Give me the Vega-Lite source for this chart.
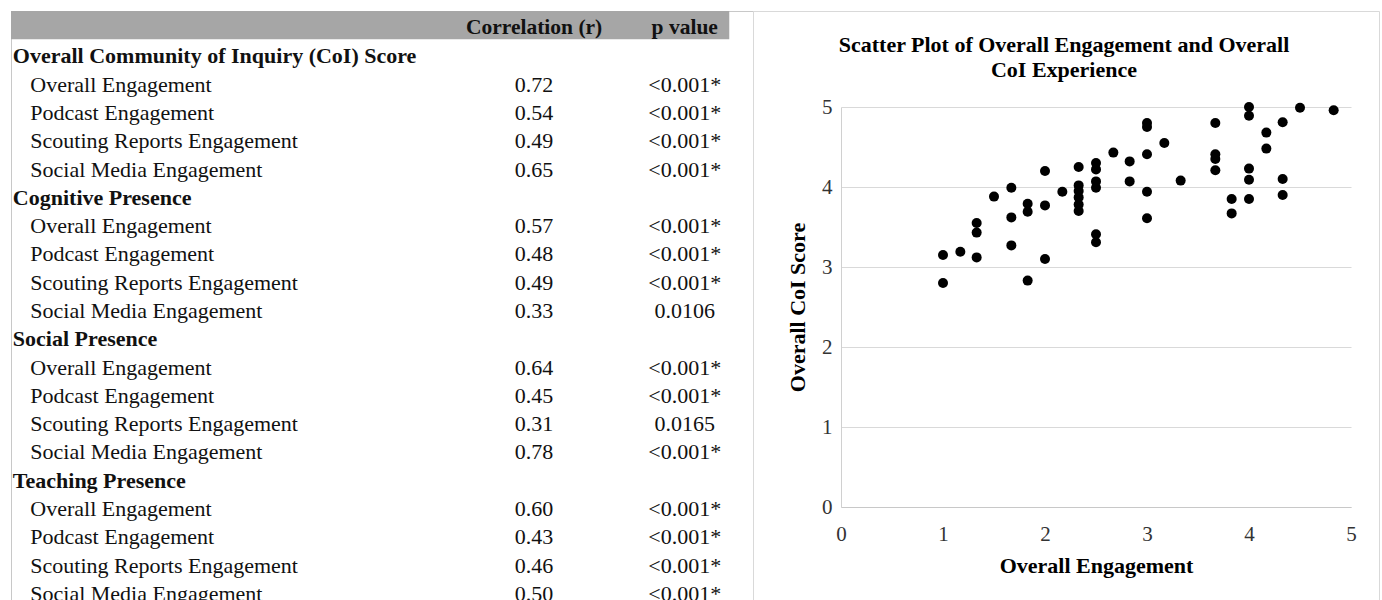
{
  "$schema": "https://vega.github.io/schema/vega-lite/v6.json",
  "padding": {"left": 10, "top": 10, "right": 0, "bottom": 0},
  "background": "white",
  "spacing": 0,
  "bounds": "flush",
  "config": {"font": "Liberation Serif", "view": {"stroke": null}},
  "datasets": {
    "table": [
      {"row": 0, "kind": "header", "label": "", "r": "Correlation (r)", "p": "p value"},
      {"row": 1, "kind": "section", "label": "Overall Community of Inquiry (CoI) Score", "r": "", "p": ""},
      {"row": 2, "kind": "item", "label": "Overall Engagement", "r": "0.72", "p": "<0.001*"},
      {"row": 3, "kind": "item", "label": "Podcast Engagement", "r": "0.54", "p": "<0.001*"},
      {"row": 4, "kind": "item", "label": "Scouting Reports Engagement", "r": "0.49", "p": "<0.001*"},
      {"row": 5, "kind": "item", "label": "Social Media Engagement", "r": "0.65", "p": "<0.001*"},
      {"row": 6, "kind": "section", "label": "Cognitive Presence", "r": "", "p": ""},
      {"row": 7, "kind": "item", "label": "Overall Engagement", "r": "0.57", "p": "<0.001*"},
      {"row": 8, "kind": "item", "label": "Podcast Engagement", "r": "0.48", "p": "<0.001*"},
      {"row": 9, "kind": "item", "label": "Scouting Reports Engagement", "r": "0.49", "p": "<0.001*"},
      {"row": 10, "kind": "item", "label": "Social Media Engagement", "r": "0.33", "p": "0.0106"},
      {"row": 11, "kind": "section", "label": "Social Presence", "r": "", "p": ""},
      {"row": 12, "kind": "item", "label": "Overall Engagement", "r": "0.64", "p": "<0.001*"},
      {"row": 13, "kind": "item", "label": "Podcast Engagement", "r": "0.45", "p": "<0.001*"},
      {"row": 14, "kind": "item", "label": "Scouting Reports Engagement", "r": "0.31", "p": "0.0165"},
      {"row": 15, "kind": "item", "label": "Social Media Engagement", "r": "0.78", "p": "<0.001*"},
      {"row": 16, "kind": "section", "label": "Teaching Presence", "r": "", "p": ""},
      {"row": 17, "kind": "item", "label": "Overall Engagement", "r": "0.60", "p": "<0.001*"},
      {"row": 18, "kind": "item", "label": "Podcast Engagement", "r": "0.43", "p": "<0.001*"},
      {"row": 19, "kind": "item", "label": "Scouting Reports Engagement", "r": "0.46", "p": "<0.001*"},
      {"row": 20, "kind": "item", "label": "Social Media Engagement", "r": "0.50", "p": "<0.001*"}
    ],
    "scatter": [
      {"eng": 1.0, "coi": 3.15}, {"eng": 1.0, "coi": 2.80},
      {"eng": 1.17, "coi": 3.19},
      {"eng": 1.33, "coi": 3.55}, {"eng": 1.33, "coi": 3.43}, {"eng": 1.33, "coi": 3.12},
      {"eng": 1.5, "coi": 3.88},
      {"eng": 1.67, "coi": 3.99}, {"eng": 1.67, "coi": 3.62}, {"eng": 1.67, "coi": 3.27},
      {"eng": 1.83, "coi": 3.79}, {"eng": 1.83, "coi": 3.69}, {"eng": 1.83, "coi": 2.83},
      {"eng": 2.0, "coi": 4.20}, {"eng": 2.0, "coi": 3.77}, {"eng": 2.0, "coi": 3.10},
      {"eng": 2.17, "coi": 3.94},
      {"eng": 2.33, "coi": 4.25}, {"eng": 2.33, "coi": 4.02}, {"eng": 2.33, "coi": 3.95}, {"eng": 2.33, "coi": 3.87}, {"eng": 2.33, "coi": 3.78}, {"eng": 2.33, "coi": 3.70},
      {"eng": 2.5, "coi": 4.30}, {"eng": 2.5, "coi": 4.22}, {"eng": 2.5, "coi": 4.07}, {"eng": 2.5, "coi": 3.99}, {"eng": 2.5, "coi": 3.41}, {"eng": 2.5, "coi": 3.31},
      {"eng": 2.67, "coi": 4.43},
      {"eng": 2.83, "coi": 4.32}, {"eng": 2.83, "coi": 4.07},
      {"eng": 3.0, "coi": 4.80}, {"eng": 3.0, "coi": 4.75}, {"eng": 3.0, "coi": 4.41}, {"eng": 3.0, "coi": 3.94}, {"eng": 3.0, "coi": 3.61},
      {"eng": 3.17, "coi": 4.55},
      {"eng": 3.33, "coi": 4.08},
      {"eng": 3.67, "coi": 4.80}, {"eng": 3.67, "coi": 4.41}, {"eng": 3.67, "coi": 4.35}, {"eng": 3.67, "coi": 4.21},
      {"eng": 3.83, "coi": 3.85}, {"eng": 3.83, "coi": 3.67},
      {"eng": 4.0, "coi": 5.00}, {"eng": 4.0, "coi": 4.89}, {"eng": 4.0, "coi": 4.23}, {"eng": 4.0, "coi": 4.09}, {"eng": 4.0, "coi": 3.85},
      {"eng": 4.17, "coi": 4.68}, {"eng": 4.17, "coi": 4.48},
      {"eng": 4.33, "coi": 4.81}, {"eng": 4.33, "coi": 4.10}, {"eng": 4.33, "coi": 3.90},
      {"eng": 4.5, "coi": 4.99},
      {"eng": 4.83, "coi": 4.96}
    ]
  },
  "hconcat": [
    {
      "width": 742,
      "height": 594,
      "view": {"stroke": "#c8c8c8", "strokeWidth": 1},
      "data": {"name": "table"},
      "encoding": {
        "y": {"field": "row", "type": "ordinal", "axis": null, "scale": {"paddingInner": 0, "paddingOuter": 0}}
      },
      "layer": [
        {
          "transform": [{"filter": "datum.kind === 'header'"}],
          "mark": {"type": "rect", "color": "#a6a6a6"},
          "encoding": {
            "x": {"datum": 0, "type": "quantitative", "scale": {"domain": [0, 100], "nice": false, "zero": false}, "axis": null},
            "x2": {"datum": 96.8}
          }
        },
        {
          "transform": [{"filter": "datum.kind === 'header'"}],
          "mark": {"type": "text", "fontSize": 21.5, "fontWeight": "bold", "align": "center", "baseline": "middle", "dy": 3, "color": "#111"},
          "encoding": {"x": {"datum": 70.5, "type": "quantitative"}, "text": {"field": "r"}}
        },
        {
          "transform": [{"filter": "datum.kind === 'header'"}],
          "mark": {"type": "text", "fontSize": 21.5, "fontWeight": "bold", "align": "center", "baseline": "middle", "dy": 3, "color": "#111"},
          "encoding": {"x": {"datum": 90.8, "type": "quantitative"}, "text": {"field": "p"}}
        },
        {
          "transform": [{"filter": "datum.kind === 'section'"}],
          "mark": {"type": "text", "fontSize": 22, "fontWeight": "bold", "align": "left", "baseline": "middle", "dy": 3, "color": "#111"},
          "encoding": {"x": {"datum": 0.25, "type": "quantitative"}, "text": {"field": "label"}}
        },
        {
          "transform": [{"filter": "datum.kind === 'item'"}],
          "mark": {"type": "text", "fontSize": 22, "align": "left", "baseline": "middle", "dy": 3, "color": "#111"},
          "encoding": {"x": {"datum": 2.6, "type": "quantitative"}, "text": {"field": "label"}}
        },
        {
          "transform": [{"filter": "datum.kind === 'item'"}],
          "mark": {"type": "text", "fontSize": 22, "align": "center", "baseline": "middle", "dy": 3, "color": "#111"},
          "encoding": {"x": {"datum": 70.5, "type": "quantitative"}, "text": {"field": "r"}}
        },
        {
          "transform": [{"filter": "datum.kind === 'item'"}],
          "mark": {"type": "text", "fontSize": 22, "align": "center", "baseline": "middle", "dy": 3, "color": "#111"},
          "encoding": {"x": {"datum": 90.8, "type": "quantitative"}, "text": {"field": "p"}}
        }
      ]
    },
    {
      "width": 626,
      "height": 600,
      "view": {"stroke": "#d9d9d9", "strokeWidth": 1},
      "title": {
        "text": ["Scatter Plot of Overall Engagement and Overall", "CoI Experience"],
        "fontSize": 22,
        "fontWeight": "bold",
        "lineHeight": 25,
        "offset": -71,
        "anchor": "middle",
        "frame": "group",
        "dx": -2,
        "color": "#000",
        "font": "Liberation Serif"
      },
      "data": {"name": "scatter"},
      "mark": {"type": "circle", "size": 100, "opacity": 1, "color": "#000"},
      "encoding": {
        "x": {
          "field": "eng", "type": "quantitative",
          "scale": {"domain": [0, 5], "nice": false, "range": [88, 598]},
          "axis": {"title": "Overall Engagement", "values": [0, 1, 2, 3, 4, 5], "grid": false, "ticks": false, "tickSize": 0, "offset": -104, "labelFlush": false,
            "domainColor": "#c8c8c8", "labelFontSize": 21, "labelColor": "#333", "labelPadding": 16,
            "titleFontSize": 22, "titleFontWeight": "bold", "titleColor": "#000", "titlePadding": 11, "labelFont": "Liberation Serif", "titleFont": "Liberation Serif"}
        },
        "y": {
          "field": "coi", "type": "quantitative",
          "scale": {"domain": [0, 5], "nice": false, "range": [496, 96]},
          "axis": {"title": "Overall CoI Score", "values": [0, 1, 2, 3, 4, 5], "grid": true, "gridColor": "#d9d9d9", "ticks": false, "tickSize": 0, "offset": -88, "labelFlush": false,
            "domainColor": "#d0d0d0", "labelFontSize": 21, "labelColor": "#333", "labelPadding": 9,
            "titleFontSize": 22, "titleFontWeight": "bold", "titleColor": "#000", "titlePadding": 12, "labelFont": "Liberation Serif", "titleFont": "Liberation Serif"}
        }
      }
    }
  ]
}
